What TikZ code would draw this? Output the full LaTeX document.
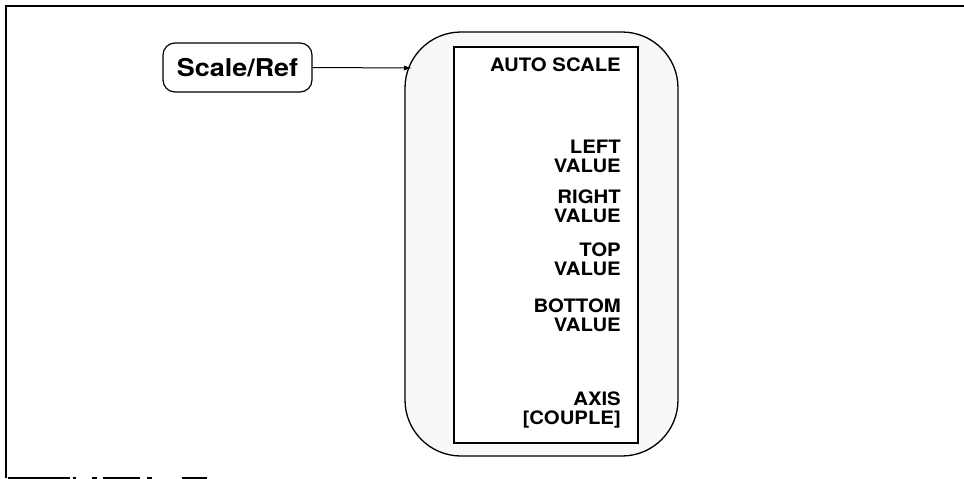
\documentclass[tikz,border=0pt]{standalone}
\usepackage{fontspec}
\usepackage{tikz}
\usetikzlibrary{arrows.meta}
\newfontfamily\keyfont[FakeStretch=1.1]{TeX Gyre Heros}
\definecolor{panelGray}{RGB}{248, 248, 248}

\begin{document}
\begin{tikzpicture}[x=1pt, y=-1pt, >={Latex[length=8pt, width=5pt]}]
      \useasboundingbox (0,0) rectangle (964,479);

      % frame
      \draw[line width=2pt] (964,6) -- (6,6) -- (6,478);
      \draw[line width=1.3pt, dash pattern=on 62pt off 3pt on 3pt off 16pt on 5pt off 6pt on 37pt off 7pt on 5pt off 30pt on 25pt off 99pt] (8,478) -- (207,478);

      % hardkey
      \node[draw, line width=1.2pt, rounded corners=12pt, minimum width=149pt, minimum height=49pt,
            font=\keyfont\bfseries\fontsize{24.5}{28}\selectfont] (scaleref) at (237.5,67.5) {Scale/Ref};

      % softkey panel
      \node[draw, fill=panelGray, line width=1.3pt, rounded corners=56pt, minimum width=273pt, minimum height=424pt] (panel) at (541.5,244) {};
      \node[draw, fill=white, line width=1.3pt, minimum width=184pt, minimum height=396pt] (softkeys) at (546,245) {};

      \coordinate (entry) at (412,68);
      \draw[line width=1pt, ->] (scaleref.east) -- (entry);

      \tikzset{keylabel/.style={anchor=east, inner sep=0pt, align=right,
            font=\keyfont\bfseries\fontsize{18.5}{19}\selectfont}}
      \node[keylabel] (autoscale) at (621,65) {AUTO SCALE};
      \node[keylabel] (leftval) at (621,156.5) {LEFT\\VALUE};
      \node[keylabel] (rightval) at (621,206) {RIGHT\\VALUE};
      \node[keylabel] (topval) at (621,259) {TOP\\VALUE};
      \node[keylabel] (bottomval) at (621,315.5) {BOTTOM\\VALUE};
      \node[keylabel] (axis) at (621,409.5) {AXIS\\{[COUPLE]}};
    \end{tikzpicture}
\end{document}
